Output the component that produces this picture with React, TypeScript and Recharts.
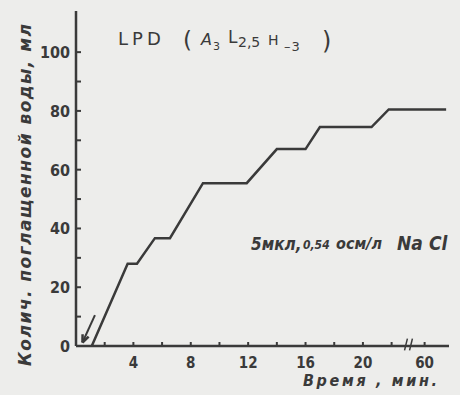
import React from "react";
import { LineChart, Line, XAxis, YAxis, ReferenceLine } from "recharts";

// display position on the time axis (the 60 min point sits after the axis break)
const times = [1.1, 3.6, 4.25, 5.5, 6.55, 8.85, 11.9, 14.0, 16.0, 17.0, 20.6, 21.8, 25.8];
const water = [0, 28, 28, 36.7, 36.7, 55.4, 55.4, 67, 67, 74.5, 74.5, 80.5, 80.5];

const xTicks = [2, 4, 6, 8, 10, 12, 14, 16, 18, 20, 22, 24.3];
const xTickLabels: Record<number, string> = { 4: "4", 8: "8", 12: "12", 16: "16", 20: "20", 24.3: "60" };
const yTicks = [0, 10, 20, 30, 40, 50, 60, 70, 80, 90, 100];
const yTickLabels: Record<number, string> = { 0: "0", 20: "20", 40: "40", 60: "60", 80: "80", 100: "100" };

// arrow pointing to the start of the curve: shaft and two head strokes
const arrowShaft = [{ x: 1.32, y: 10.5 }, { x: 0.45, y: 1.2 }];
const arrowHead = [
  [{ x: 0.45, y: 1.2 }, { x: 0.88, y: 3.2 }],
  [{ x: 0.45, y: 1.2 }, { x: 0.46, y: 4.0 }],
];
const breakMarks = [23.0, 23.35];

const data = times.map((t, i) => ({ t, v: water[i] }));

const INK = "#3a3a3a";
const FONT = "'DejaVu Sans Condensed', 'DejaVu Sans', sans-serif";
const WIDE = "'DejaVu Sans', sans-serif";

const XTick = (props: any) => {
  const { x, y, payload } = props;
  const label = xTickLabels[payload.value];
  return (
    <g>
      <line x1={x} y1={y} x2={x} y2={y - 4} stroke={INK} strokeWidth={2} />
      {label && (
        <text x={x} y={y + 22} textAnchor="middle" fontFamily={FONT} fontWeight="bold" fontSize={15} fill={INK}>
          {label}
        </text>
      )}
    </g>
  );
};

const YTick = (props: any) => {
  const { x, y, payload } = props;
  const label = yTickLabels[payload.value];
  return (
    <g>
      <line x1={x} y1={y} x2={x + 5} y2={y} stroke={INK} strokeWidth={2} />
      {label && (
        <text x={x - 6} y={y + 6} textAnchor="end" fontFamily={FONT} fontWeight="bold" fontSize={16} fill={INK}>
          {label}
        </text>
      )}
    </g>
  );
};

export default function App() {
  return (
    <div style={{ position: "absolute", left: 0, top: 0, width: 460, height: 395, background: "#ededeb" }}>
      <LineChart width={460} height={395} data={data} margin={{ top: 11, right: 11, bottom: 0, left: 0 }}>
        <XAxis
          dataKey="t"
          type="number"
          domain={[0, 26]}
          ticks={xTicks}
          interval={0}
          height={49}
          tickSize={0}
          tickMargin={0}
          tick={<XTick />}
          axisLine={{ stroke: INK, strokeWidth: 2.5 }}
        />
        <YAxis
          type="number"
          domain={[0, 114]}
          ticks={yTicks}
          interval={0}
          width={76}
          tickSize={0}
          tickMargin={0}
          tick={<YTick />}
          axisLine={{ stroke: INK, strokeWidth: 2.5 }}
        />
        {breakMarks.map((b) => (
          <ReferenceLine
            key={b}
            segment={[{ x: b - 0.1, y: -1.5 }, { x: b + 0.1, y: 2.5 }]}
            stroke={INK}
            strokeWidth={1.5}
            ifOverflow="visible"
          />
        ))}
        <ReferenceLine segment={arrowShaft} ifOverflow="visible" stroke={INK} strokeWidth={2} />
        {arrowHead.map((seg, i) => (
          <ReferenceLine key={i} segment={seg} ifOverflow="visible" stroke={INK} strokeWidth={2.5} />
        ))}
        <Line type="linear" dataKey="v" stroke={INK} strokeWidth={2.5} dot={false} isAnimationActive={false} />
      </LineChart>
      <svg width={460} height={395} style={{ position: "absolute", left: 0, top: 0, pointerEvents: "none" }}>
        <g fontFamily={WIDE} fill={INK}>
          <text x={118} y={45} fontSize={18} letterSpacing={4}>LPD</text>
          <text x={183} y={48} fontSize={23}>(</text>
          <text x={201} y={45} fontSize={16} fontStyle="italic">A</text>
          <text x={213} y={50} fontSize={11}>3</text>
          <text x={228} y={43} fontSize={17}>L</text>
          <text x={238} y={47} fontSize={14}>2,5</text>
          <text x={268} y={45} fontSize={14}>H</text>
          <text x={284} y={51} fontSize={13} letterSpacing={1}>–3</text>
          <text x={322} y={49} fontSize={24}>)</text>
        </g>
        <g fontFamily={FONT} fontWeight="bold" fontStyle="italic" fill={INK}>
          <text x={251} y={250} fontSize={17}>5мкл,</text>
          <text x={303} y={249} fontSize={12}>0,54</text>
          <text x={336} y={249} fontSize={16}>осм/л</text>
          <text x={397} y={250} fontSize={19}>Na</text>
          <text x={429} y={250} fontSize={19}>Cl</text>
        </g>
        <text
          x={303}
          y={386}
          fontFamily={FONT}
          fontWeight="bold"
          fontStyle="italic"
          fontSize={16}
          fill={INK}
          textLength={134}
          lengthAdjust="spacing"
        >
          Время , мин.
        </text>
        <text
          transform="translate(31,195) rotate(-90)"
          textAnchor="middle"
          fontFamily={WIDE}
          fontWeight="bold"
          fontStyle="italic"
          fontSize={17}
          fill={INK}
          textLength={342}
          lengthAdjust="spacing"
        >
          Колич. поглащенной воды, мл
        </text>
      </svg>
    </div>
  );
}
